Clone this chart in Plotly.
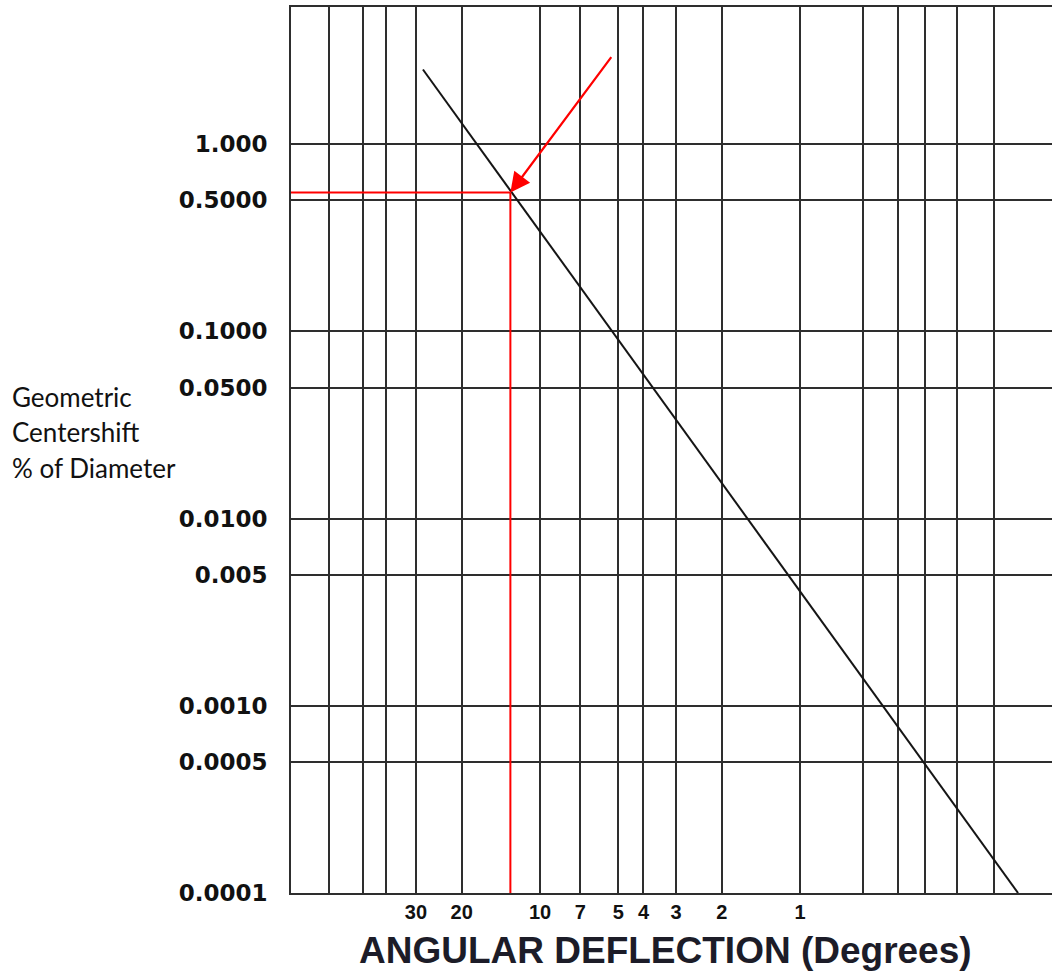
import math
import plotly.graph_objects as go

# ---------------- data ----------------
angle_ticks = [30, 20, 10, 7, 5, 4, 3, 2, 1]            # labelled x ticks (degrees)
angle_labels = ["30", "20", "10", "7", "5", "4", "3", "2", "1"]
angle_extra_grid = [65, 48, 39, 0.57, 0.42, 0.33, 0.25, 0.18]  # unlabelled grid lines

shift_ticks = [1, 0.5, 0.1, 0.05, 0.01, 0.005, 0.001, 0.0005, 0.0001]
shift_labels = ["1.000", "0.5000", "0.1000", "0.0500", "0.0100",
                "0.005", "0.0010", "0.0005", "0.0001"]

line_angle = [28.2, 0.145]      # centershift line end points (degrees)
line_shift = [2.5, 0.0001]      # % of diameter

mark_angle = 13.0               # highlighted reading
mark_shift = 0.55

# ---------------- layout constants ----------------
W, H = 1052, 973
ML, MR, MT, MB = 291, 0, 7, 80
X_RANGE = [1.9577, -0.9692]     # log10 units, reversed
Y_RANGE = [-4.0, 0.7316]
PW = W - ML - MR
PH = H - MT - MB

GRID = "#2e2e2e"
RED = "#ff0000"

fig = go.Figure()

# main line
fig.add_trace(go.Scatter(x=line_angle, y=line_shift, mode="lines",
                         line=dict(color="#151515", width=2),
                         hoverinfo="skip", showlegend=False))

# red reading lines
x_left = 10 ** X_RANGE[0]
y_bottom = 10 ** Y_RANGE[0]
fig.add_trace(go.Scatter(x=[x_left, mark_angle], y=[mark_shift, mark_shift],
                         mode="lines", line=dict(color=RED, width=2),
                         hoverinfo="skip", showlegend=False, cliponaxis=False))
fig.add_trace(go.Scatter(x=[mark_angle, mark_angle], y=[mark_shift, y_bottom],
                         mode="lines", line=dict(color=RED, width=2),
                         hoverinfo="skip", showlegend=False, cliponaxis=False))

# x grid / ticks
x_tickvals = angle_ticks + angle_extra_grid
x_ticktext = angle_labels + [""] * len(angle_extra_grid)

fig.update_xaxes(type="log", range=X_RANGE,
                 tickmode="array", tickvals=x_tickvals, ticktext=x_ticktext,
                 showgrid=True, gridcolor=GRID, gridwidth=1.7,
                 showline=True, linecolor=GRID, linewidth=1.7, mirror=True,
                 ticks="", ticklabelstandoff=0,
                 tickfont=dict(family="Liberation Sans", size=20, color="#111", weight="bold"),
                 zeroline=False)

fig.update_yaxes(type="log", range=Y_RANGE,
                 tickmode="array", tickvals=shift_ticks, ticktext=shift_labels,
                 showgrid=True, gridcolor=GRID, gridwidth=1.7,
                 showline=True, linecolor=GRID, linewidth=1.7,
                 ticks="", ticklabelstandoff=17,
                 tickfont=dict(family="DejaVu Sans", size=23, color="#111", weight="bold"),
                 zeroline=False)

def px_x(p):
    return (p - ML) / PW

def px_y(p):
    return (H - MB - p) / PH

annotations = []
# arrow pointing at the reading
annotations.append(dict(x=math.log10(mark_angle), y=math.log10(mark_shift),
                        xref="x", yref="y", text="", showarrow=True,
                        ax=102, ay=-137, arrowcolor=RED, arrowwidth=2.2,
                        arrowhead=2, arrowsize=1.8, standoff=0))

# y-axis title (three lines)
for txt, yc in [("Geometric", 397), ("Centershift", 432), ("% of Diameter", 468)]:
    annotations.append(dict(x=px_x(10), y=px_y(yc), xref="paper", yref="paper",
                            text=txt, showarrow=False, xanchor="left", yanchor="middle",
                            font=dict(family="Lato", size=26, color="#111")))

# x-axis title
annotations.append(dict(x=px_x(665), y=px_y(950), xref="paper", yref="paper",
                        text="<b>ANGULAR DEFLECTION (Degrees)</b>", showarrow=False,
                        xanchor="center", yanchor="middle",
                        font=dict(family="Liberation Sans", size=37, color="#1c1c28")))

fig.update_layout(width=W, height=H,
                  margin=dict(l=ML, r=MR, t=MT, b=MB, pad=0),
                  paper_bgcolor="white", plot_bgcolor="white",
                  showlegend=False, annotations=annotations)

fig.write_html("out.html",
               config={"displayModeBar": False},
               post_script="document.documentElement.style.margin='0';"
                           "document.body.style.margin='0';"
                           "document.body.style.overflow='hidden';")
